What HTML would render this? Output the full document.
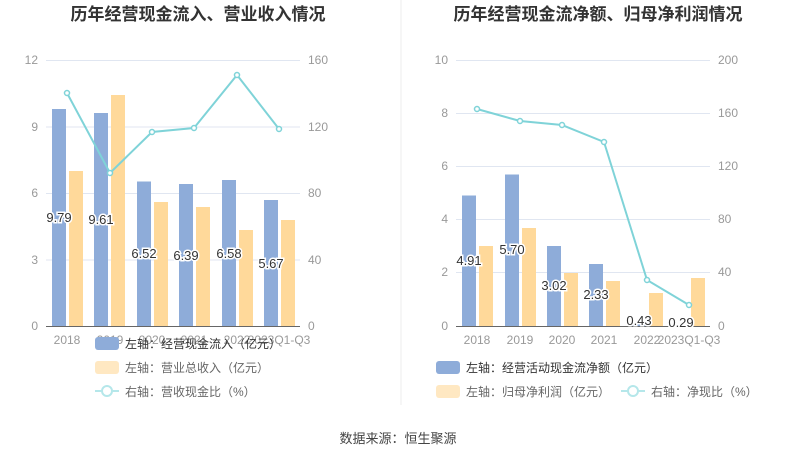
<!DOCTYPE html>
<html><head><meta charset="utf-8"><style>
body{margin:0;background:#fff;}
svg{display:block;font-family:"Liberation Sans","Noto Sans CJK SC",sans-serif;}
</style></head><body>
<svg width="796" height="459" viewBox="0 0 796 459">
<rect width="796" height="459" fill="#fff"/>
<line x1="401" y1="0" x2="401" y2="405" stroke="#eee"/>
<text x="198" y="20" font-size="17" font-weight="bold" fill="#333" text-anchor="middle">历年经营现金流入、营业收入情况</text>
<text x="598" y="20" font-size="17" font-weight="bold" fill="#333" text-anchor="middle">历年经营现金流净额、归母净利润情况</text>
<g stroke="#e0e6f1" stroke-width="1">
<line x1="46" y1="60.5" x2="300" y2="60.5"/><line x1="46" y1="127" x2="300" y2="127"/><line x1="46" y1="193.5" x2="300" y2="193.5"/><line x1="46" y1="260" x2="300" y2="260"/>
<line x1="456" y1="60.5" x2="710" y2="60.5"/><line x1="456" y1="113.5" x2="710" y2="113.5"/><line x1="456" y1="166.5" x2="710" y2="166.5"/><line x1="456" y1="219.5" x2="710" y2="219.5"/><line x1="456" y1="272.5" x2="710" y2="272.5"/>
</g>
<g font-size="12" fill="#999">
<g text-anchor="end"><text x="38" y="64">12</text><text x="38" y="131">9</text><text x="38" y="197">6</text><text x="38" y="264">3</text><text x="38" y="330">0</text>
<text x="448" y="64">10</text><text x="448" y="117">8</text><text x="448" y="170">6</text><text x="448" y="223">4</text><text x="448" y="276">2</text><text x="448" y="330">0</text></g>
<text x="308" y="64">160</text><text x="308" y="131">120</text><text x="308" y="197">80</text><text x="308" y="264">40</text><text x="308" y="330">0</text>
<text x="718" y="64">200</text><text x="718" y="117">160</text><text x="718" y="170">120</text><text x="718" y="223">80</text><text x="718" y="276">40</text><text x="718" y="330">0</text>
<g text-anchor="middle"><text x="67" y="344">2018</text><text x="110" y="344">2019</text><text x="152" y="344">2020</text><text x="194" y="344">2021</text><text x="237" y="344">2022</text><text x="279" y="344">2023Q1-Q3</text>
<text x="477" y="344">2018</text><text x="520" y="344">2019</text><text x="562" y="344">2020</text><text x="604" y="344">2021</text><text x="647" y="344">2022</text><text x="689" y="344">2023Q1-Q3</text></g>
</g>
<g fill="#8eacd9">
<rect x="52" y="109" width="14" height="217"/><rect x="94" y="113" width="14" height="213"/><rect x="137" y="181.5" width="14" height="144.5"/><rect x="179" y="184" width="14" height="142"/><rect x="222" y="180" width="14" height="146"/><rect x="264" y="200" width="14" height="126"/>
<rect x="462" y="195.5" width="14" height="130.5"/><rect x="505" y="174.5" width="14" height="151.5"/><rect x="547" y="246" width="14" height="80"/><rect x="589" y="264" width="14" height="62"/><rect x="632" y="324" width="14" height="2"/><rect x="674" y="325" width="14" height="1"/>
</g>
<g fill="#ffd99a">
<rect x="69" y="171" width="14" height="155"/><rect x="111" y="95" width="14" height="231"/><rect x="154" y="202" width="14" height="124"/><rect x="196" y="207" width="14" height="119"/><rect x="239" y="230" width="14" height="96"/><rect x="281" y="220" width="14" height="106"/>
<rect x="479" y="246" width="14" height="80"/><rect x="522" y="228" width="14" height="98"/><rect x="564" y="273" width="14" height="53"/><rect x="606" y="281" width="14" height="45"/><rect x="649" y="293" width="14" height="33"/><rect x="691" y="278" width="14" height="48"/>
</g>
<line x1="46" y1="326.5" x2="300" y2="326.5" stroke="#666"/>
<line x1="456" y1="326.5" x2="710" y2="326.5" stroke="#666"/>
<polyline points="67,93 110,173 152,132 194,128 237,75 279,129" fill="none" stroke="#7fd3d8" stroke-width="2"/>
<polyline points="477,109 520,121 562,125 604,142 647,280 689,305" fill="none" stroke="#7fd3d8" stroke-width="2"/>
<g fill="#fff" stroke="#7fd3d8" stroke-width="1.5">
<circle cx="67" cy="93" r="2.5"/><circle cx="110" cy="173" r="2.5"/><circle cx="152" cy="132" r="2.5"/><circle cx="194" cy="128" r="2.5"/><circle cx="237" cy="75" r="2.5"/><circle cx="279" cy="129" r="2.5"/>
<circle cx="477" cy="109" r="2.5"/><circle cx="520" cy="121" r="2.5"/><circle cx="562" cy="125" r="2.5"/><circle cx="604" cy="142" r="2.5"/><circle cx="647" cy="280" r="2.5"/><circle cx="689" cy="305" r="2.5"/>
</g>
<g font-size="13" fill="#333" text-anchor="middle" stroke="#fff" stroke-width="3" paint-order="stroke">
<text x="59" y="222">9.79</text><text x="101" y="224">9.61</text><text x="144" y="258">6.52</text><text x="186" y="260">6.39</text><text x="229" y="258">6.58</text><text x="271" y="268">5.67</text>
<text x="469" y="265">4.91</text><text x="512" y="254">5.70</text><text x="554" y="290">3.02</text><text x="596" y="299">2.33</text><text x="639" y="325">0.43</text><text x="681" y="327">0.29</text>
</g>
<g font-size="12" fill="#666">
<rect x="95" y="337" width="24" height="13" rx="3" fill="#8eacd9"/><text x="125" y="348" fill="#333">左轴：经营现金流入（亿元）</text>
<rect x="95" y="361" width="24" height="13" rx="3" fill="#ffe8c2"/><text x="125" y="372">左轴：营业总收入（亿元）</text>
<line x1="95" y1="391" x2="119" y2="391" stroke="#b5e7ea" stroke-width="2"/><circle cx="107" cy="391" r="5" fill="#fff" stroke="#b5e7ea" stroke-width="2"/><text x="125" y="396">右轴：营收现金比（%）</text>
<rect x="436" y="361" width="24" height="13" rx="3" fill="#8eacd9"/><text x="466" y="372" fill="#333">左轴：经营活动现金流净额（亿元）</text>
<rect x="436" y="385" width="24" height="13" rx="3" fill="#ffe8c2"/><text x="466" y="396">左轴：归母净利润（亿元）</text>
<line x1="621" y1="391" x2="645" y2="391" stroke="#b5e7ea" stroke-width="2"/><circle cx="633" cy="391" r="5" fill="#fff" stroke="#b5e7ea" stroke-width="2"/><text x="651" y="396">右轴：净现比（%）</text>
</g>
<text x="398" y="443" font-size="13" fill="#444" text-anchor="middle">数据来源：恒生聚源</text>
</svg>
</body></html>
